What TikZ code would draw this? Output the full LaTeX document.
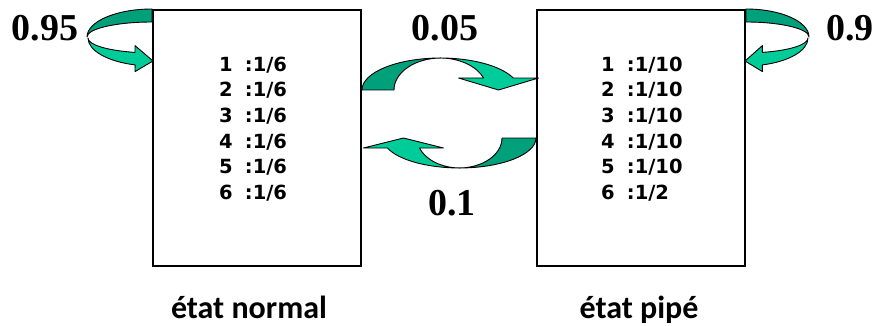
\documentclass[tikz,border=0pt]{standalone}
\usepackage{fontspec}
\usepackage{tikz}
\usetikzlibrary{positioning}
\newfontfamily\probfont{Liberation Serif}
\newfontfamily\tabfont[WordSpace=1.8]{DejaVu Sans}
\newfontfamily\labelfont{Carlito}
\definecolor{ribbondark}{RGB}{0,160,122}
\definecolor{ribbonlight}{RGB}{0,204,153}

\begin{document}
\begin{tikzpicture}[x=1pt, y=-1pt,
    box/.style={draw, line width=2pt, minimum width=208pt, minimum height=256pt, inner sep=0pt},
    back/.style={fill=ribbondark, draw=black, line width=0.9pt, line join=round},
    front/.style={fill=ribbonlight, draw=black, line width=0.9pt, line join=round},
    prob/.style={font=\probfont\bfseries\fontsize{38}{40}\selectfont, inner sep=0pt},
    probtab/.style={font=\tabfont\bfseries\fontsize{19.5}{25.6}\selectfont, align=left, inner sep=0pt},
    statelabel/.style={font=\labelfont\bfseries\fontsize{32}{34}\selectfont, inner sep=0pt, anchor=base}]
  \useasboundingbox (0,0) rectangle (877,326);
  % the two states
  \node[box] (normal) at (257,138) {};
  \node[box] (pipe) at (641,138) {};
  % emission probabilities
  \node[probtab, anchor=west] (tnormal) at (219,129) {1 :1/6\\2 :1/6\\3 :1/6\\4 :1/6\\5 :1/6\\6 :1/6};
  \node[probtab, anchor=west] (tpipe) at (601,129) {1 :1/10\\2 :1/10\\3 :1/10\\4 :1/10\\5 :1/10\\6 :1/2};
  % state names
  \node[statelabel] (lnormal) at (249,318) {état normal};
  \node[statelabel] (lpipe) at (639,318) {état pipé};
  % loop on the normal state
  \draw[back] (normal.north west) arc[start angle=270, end angle=180, x radius=65, y radius=28]
    arc[start angle=180, end angle=270, x radius=65, y radius=15] -- cycle;
  \draw[front] (88,38) arc[start angle=180, end angle=106, x radius=65, y radius=28]
    -- (135,71.6) -- (153,61) -- (135,45.6) -- (135,52.4)
    arc[start angle=106, end angle=180, x radius=65, y radius=15] -- cycle;
  % loop on the loaded state
  \draw[back] (pipe.north east) arc[start angle=270, end angle=360, x radius=63, y radius=28]
    arc[start angle=360, end angle=270, x radius=63, y radius=15] -- cycle;
  \draw[front] (808,38) arc[start angle=0, end angle=74, x radius=63, y radius=28]
    -- (762.4,71.6) -- (745,61) -- (762.4,45.6) -- (762.4,52.4)
    arc[start angle=74, end angle=0, x radius=63, y radius=15] -- cycle;
  % normal -> loaded
  \draw[back] (normal.east |- 0,90) arc[start angle=180, end angle=270, x radius=79, y radius=32]
    arc[start angle=270, end angle=180, x radius=47, y radius=32] -- cycle;
  \draw[front] (440,58) arc[start angle=270, end angle=338, x radius=79, y radius=32]
    -- (538.5,78) -- (498.5,90) -- (458.5,78) -- (483.6,78)
    arc[start angle=338, end angle=270, x radius=47, y radius=32] -- cycle;
  % loaded -> normal
  \draw[back] (pipe.west |- 0,138) arc[start angle=0, end angle=90, x radius=77, y radius=30]
    arc[start angle=90, end angle=0, x radius=43, y radius=30] -- cycle;
  \draw[front] (460,168) arc[start angle=90, end angle=160.5, x radius=77, y radius=30]
    -- (363.4,148) -- (403.4,138) -- (443.4,148) -- (419.5,148)
    arc[start angle=160.5, end angle=90, x radius=43, y radius=30] -- cycle;
  % transition probabilities
  \node[prob] (p11) at (45,28) {0.95};
  \node[prob] (p12) at (445,28) {0.05};
  \node[prob] (p22) at (850,28) {0.9};
  \node[prob] (p21) at (452,203) {0.1};
\end{tikzpicture}
\end{document}
